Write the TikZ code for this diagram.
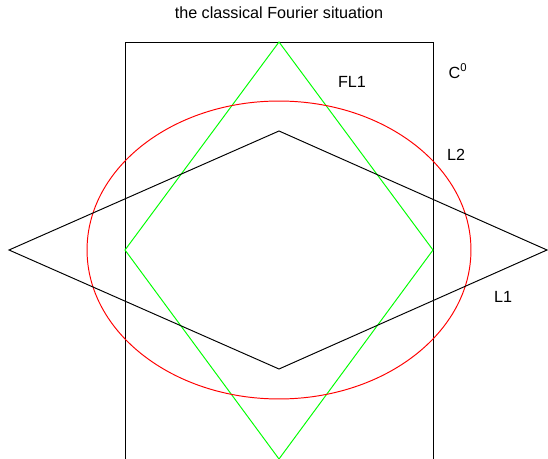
\documentclass[tikz,border=0pt]{standalone}
\usepackage{fontspec}
\setmainfont{Liberation Sans}
\begin{document}
\begin{tikzpicture}[x=0.02cm, y=-0.02cm, line width=0.6pt,
  lbl/.style={font=\fontsize{9.2}{11}\selectfont, inner sep=0pt},
  unitball/.style={line width=0.55pt}]

  \useasboundingbox (0,0) rectangle (548,459);
  \coordinate (c) at (279,250);

  % C^0: box, open at the bottom
  \draw [unitball] (125.4,459) |- (433.4,42) -- (433.4,459);
  % FL1
  \draw [unitball, green] (279,42) -- (433,250) -- (279,459) -- (125,250) -- cycle;
  % L2
  \draw [unitball, red] (c) ellipse [x radius=3.84cm, y radius=2.98cm];
  % L1
  \draw [unitball] (9,250) -- (279,131) -- (547,250) -- (279,369) -- cycle;

  \node [lbl] (title) at (279,13) {the classical Fourier situation};
  \node [lbl] (fl1) at (352,82) {FL1};
  \node [lbl] (c0) at (458,71) {C\textsuperscript{0}};
  \node [lbl] (l2) at (456,155) {L2};
  \node [lbl] (l1) at (503,297) {L1};
\end{tikzpicture}
\end{document}
